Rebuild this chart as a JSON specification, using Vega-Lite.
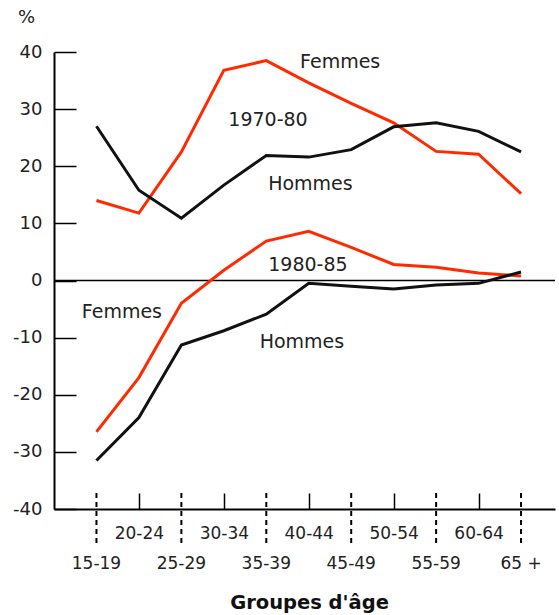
{
  "$schema": "https://vega.github.io/schema/vega-lite/v6.json",
  "width": 501,
  "height": 457,
  "autosize": {"type": "none"},
  "padding": {"left": 54, "top": 52, "right": 4, "bottom": 106},
  "background": "white",
  "config": {"view": {"stroke": null}, "font": "DejaVu Sans"},
  "datasets": {
    "series": [
      {"age": "15-19", "debut": 15, "sexe": "Femmes", "periode": "1970-80", "pct": 14},
      {"age": "20-24", "debut": 20, "sexe": "Femmes", "periode": "1970-80", "pct": 11.8},
      {"age": "25-29", "debut": 25, "sexe": "Femmes", "periode": "1970-80", "pct": 22.5},
      {"age": "30-34", "debut": 30, "sexe": "Femmes", "periode": "1970-80", "pct": 36.8},
      {"age": "35-39", "debut": 35, "sexe": "Femmes", "periode": "1970-80", "pct": 38.5},
      {"age": "40-44", "debut": 40, "sexe": "Femmes", "periode": "1970-80", "pct": 34.6},
      {"age": "45-49", "debut": 45, "sexe": "Femmes", "periode": "1970-80", "pct": 31},
      {"age": "50-54", "debut": 50, "sexe": "Femmes", "periode": "1970-80", "pct": 27.6},
      {"age": "55-59", "debut": 55, "sexe": "Femmes", "periode": "1970-80", "pct": 22.6},
      {"age": "60-64", "debut": 60, "sexe": "Femmes", "periode": "1970-80", "pct": 22.1},
      {"age": "65 +", "debut": 65, "sexe": "Femmes", "periode": "1970-80", "pct": 15.2},
      {"age": "15-19", "debut": 15, "sexe": "Hommes", "periode": "1970-80", "pct": 27},
      {"age": "20-24", "debut": 20, "sexe": "Hommes", "periode": "1970-80", "pct": 15.8},
      {"age": "25-29", "debut": 25, "sexe": "Hommes", "periode": "1970-80", "pct": 10.9},
      {"age": "30-34", "debut": 30, "sexe": "Hommes", "periode": "1970-80", "pct": 16.7},
      {"age": "35-39", "debut": 35, "sexe": "Hommes", "periode": "1970-80", "pct": 21.9},
      {"age": "40-44", "debut": 40, "sexe": "Hommes", "periode": "1970-80", "pct": 21.6},
      {"age": "45-49", "debut": 45, "sexe": "Hommes", "periode": "1970-80", "pct": 22.9},
      {"age": "50-54", "debut": 50, "sexe": "Hommes", "periode": "1970-80", "pct": 26.9},
      {"age": "55-59", "debut": 55, "sexe": "Hommes", "periode": "1970-80", "pct": 27.6},
      {"age": "60-64", "debut": 60, "sexe": "Hommes", "periode": "1970-80", "pct": 26.1},
      {"age": "65 +", "debut": 65, "sexe": "Hommes", "periode": "1970-80", "pct": 22.5},
      {"age": "15-19", "debut": 15, "sexe": "Femmes", "periode": "1980-85", "pct": -26.5},
      {"age": "20-24", "debut": 20, "sexe": "Femmes", "periode": "1980-85", "pct": -17},
      {"age": "25-29", "debut": 25, "sexe": "Femmes", "periode": "1980-85", "pct": -4},
      {"age": "30-34", "debut": 30, "sexe": "Femmes", "periode": "1980-85", "pct": 1.8},
      {"age": "35-39", "debut": 35, "sexe": "Femmes", "periode": "1980-85", "pct": 6.9},
      {"age": "40-44", "debut": 40, "sexe": "Femmes", "periode": "1980-85", "pct": 8.6},
      {"age": "45-49", "debut": 45, "sexe": "Femmes", "periode": "1980-85", "pct": 5.8},
      {"age": "50-54", "debut": 50, "sexe": "Femmes", "periode": "1980-85", "pct": 2.8},
      {"age": "55-59", "debut": 55, "sexe": "Femmes", "periode": "1980-85", "pct": 2.3},
      {"age": "60-64", "debut": 60, "sexe": "Femmes", "periode": "1980-85", "pct": 1.3},
      {"age": "65 +", "debut": 65, "sexe": "Femmes", "periode": "1980-85", "pct": 0.8},
      {"age": "15-19", "debut": 15, "sexe": "Hommes", "periode": "1980-85", "pct": -31.5},
      {"age": "20-24", "debut": 20, "sexe": "Hommes", "periode": "1980-85", "pct": -24},
      {"age": "25-29", "debut": 25, "sexe": "Hommes", "periode": "1980-85", "pct": -11.3},
      {"age": "30-34", "debut": 30, "sexe": "Hommes", "periode": "1980-85", "pct": -8.8},
      {"age": "35-39", "debut": 35, "sexe": "Hommes", "periode": "1980-85", "pct": -5.9},
      {"age": "40-44", "debut": 40, "sexe": "Hommes", "periode": "1980-85", "pct": -0.5},
      {"age": "45-49", "debut": 45, "sexe": "Hommes", "periode": "1980-85", "pct": -1},
      {"age": "50-54", "debut": 50, "sexe": "Hommes", "periode": "1980-85", "pct": -1.5},
      {"age": "55-59", "debut": 55, "sexe": "Hommes", "periode": "1980-85", "pct": -0.8},
      {"age": "60-64", "debut": 60, "sexe": "Hommes", "periode": "1980-85", "pct": -0.5},
      {"age": "65 +", "debut": 65, "sexe": "Hommes", "periode": "1980-85", "pct": 1.5}
    ],
    "annotations": [
      {"label": "Femmes", "ax": 43.7, "ay": 38.3},
      {"label": "1970-80", "ax": 35.2, "ay": 28.1},
      {"label": "Hommes", "ax": 40.2, "ay": 16.9},
      {"label": "1980-85", "ax": 39.9, "ay": 2.7},
      {"label": "Femmes", "ax": 18.0, "ay": -5.5},
      {"label": "Hommes", "ax": 39.2, "ay": -10.8}
    ],
    "zero": [{"v": 0}]
  },
  "layer": [
    {
      "data": {"name": "zero"},
      "mark": {"type": "rule", "color": "#000000", "strokeWidth": 1.5},
      "encoding": {
        "y": {
          "field": "v", "type": "quantitative",
          "scale": {"domain": [-40, 40], "nice": false, "zero": false},
          "axis": {
            "orient": "left",
            "values": [-40, -30, -20, -10, 0, 10, 20, 30, 40],
            "labelExpr": "'' + datum.value",
            "grid": false,
            "domain": true, "domainColor": "#000000", "domainWidth": 2,
            "ticks": true, "tickSize": -22, "tickColor": "#000000", "tickWidth": 1.5,
            "labelPadding": 34, "labelFont": "DejaVu Sans", "labelFontSize": 18, "labelColor": "#222222",
            "labelOverlap": false, "labelFlush": false,
            "title": "%", "titleAngle": 0, "titleX": -28, "titleY": -35,
            "titleAlign": "center", "titleBaseline": "middle",
            "titleFontWeight": "normal", "titleFontSize": 18, "titleColor": "#222222", "titleFont": "DejaVu Sans"
          }
        }
      }
    },
    {
      "data": {"name": "series"},
      "mark": {"type": "line", "strokeWidth": 3},
      "encoding": {
        "x": {
          "field": "debut", "type": "quantitative",
          "scale": {"domain": [10, 69], "nice": false, "zero": false},
          "axis": {
            "orient": "bottom",
            "values": [20, 30, 40, 50, 60],
            "labelExpr": "datum.value + '-' + (datum.value + 4)",
            "grid": false,
            "domain": true, "domainColor": "#000000", "domainWidth": 2,
            "ticks": true, "tickSize": -16, "tickColor": "#000000", "tickWidth": 1.5,
            "labelPadding": 32, "labelFont": "DejaVu Sans", "labelFontSize": 17, "labelColor": "#222222",
            "labelOverlap": false, "labelFlush": false,
            "title": "Groupes d'âge", "titleFont": "DejaVu Sans", "titleFontSize": 19.5, "titleFontWeight": "bold",
            "titleColor": "#111111", "titleX": 255, "titleY": 93, "titleAlign": "center", "titleBaseline": "middle"
          }
        },
        "y": {
          "field": "pct", "type": "quantitative",
          "scale": {"domain": [-40, 40], "nice": false, "zero": false}
        },
        "color": {
          "field": "sexe", "type": "nominal",
          "scale": {"domain": ["Femmes", "Hommes"], "range": ["#ff2a00", "#111111"]},
          "legend": null
        },
        "detail": {"field": "periode", "type": "nominal"},
        "order": {"field": "debut", "type": "quantitative"}
      }
    },
    {
      "data": {"name": "series"},
      "transform": [
        {"filter": "datum.sexe == 'Hommes' && datum.periode == '1970-80' && datum.debut % 10 == 5"}
      ],
      "mark": {"type": "rule", "color": "#000000", "strokeWidth": 2, "strokeDash": [5, 4], "clip": false},
      "encoding": {
        "x": {"field": "debut", "type": "quantitative", "scale": {"domain": [10, 69], "nice": false, "zero": false}},
        "y": {"datum": -37.2, "type": "quantitative", "scale": {"domain": [-40, 40], "nice": false, "zero": false}},
        "y2": {"datum": -46}
      }
    },
    {
      "data": {"name": "series"},
      "transform": [
        {"filter": "datum.sexe == 'Hommes' && datum.periode == '1970-80' && datum.debut % 10 == 5"}
      ],
      "mark": {"type": "text", "font": "DejaVu Sans", "fontSize": 17, "color": "#222222", "align": "center", "baseline": "middle", "clip": false},
      "encoding": {
        "x": {"field": "debut", "type": "quantitative", "scale": {"domain": [10, 69], "nice": false, "zero": false}},
        "y": {"datum": -49.7, "type": "quantitative", "scale": {"domain": [-40, 40], "nice": false, "zero": false}},
        "text": {"field": "age", "type": "nominal"}
      }
    },
    {
      "data": {"name": "annotations"},
      "mark": {"type": "text", "font": "DejaVu Sans", "fontSize": 19, "color": "#222222", "align": "center", "baseline": "middle"},
      "encoding": {
        "x": {"field": "ax", "type": "quantitative", "scale": {"domain": [10, 69], "nice": false, "zero": false}},
        "y": {"field": "ay", "type": "quantitative", "scale": {"domain": [-40, 40], "nice": false, "zero": false}},
        "text": {"field": "label", "type": "nominal"}
      }
    }
  ]
}
